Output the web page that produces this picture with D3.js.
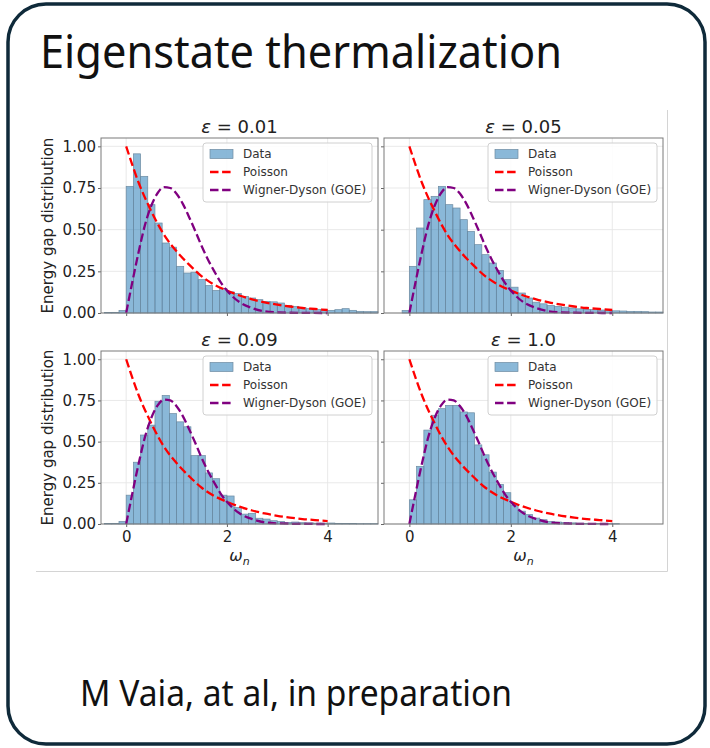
<!DOCTYPE html>
<html>
<head>
<meta charset="utf-8">
<script src="https://cdn.jsdelivr.net/npm/d3@7"></script>
<style>
  html, body { margin: 0; padding: 0; background: #fff; }
  svg { display: block; }
</style>
</head>
<body>
<div id="chart"></div>
<script>
// Eigenstate thermalization: energy gap distributions for four values of epsilon,
// histogram of the data against the Poisson and Wigner-Dyson (GOE) curves.

(function () {
  // ---- Data ----
  const binStart = -3 / 7;   // first bin edge
  const binWidth = 1 / 7;    // bins are 1/7 wide

  const panelEps = ["0.01", "0.05", "0.09", "1.0"];

  const histEps001 = [
    0.003, 0.004, 0.015,
    0.76, 0.955, 0.82, 0.65, 0.54, 0.42, 0.395, 0.28, 0.24, 0.245,
    0.20, 0.165, 0.135, 0.147, 0.127, 0.117, 0.10, 0.09, 0.08, 0.07,
    0.067, 0.06, 0.046, 0.04, 0.032, 0.026, 0.022, 0.02, 0.016, 0.02,
    0.026, 0.016, 0.01, 0.008, 0.008
  ];
  const histEps005 = [
    0, 0, 0.015,
    0.28, 0.51, 0.68, 0.70, 0.76, 0.65, 0.63, 0.56, 0.49, 0.41,
    0.35, 0.30, 0.255, 0.20, 0.155, 0.12, 0.09, 0.065, 0.055, 0.045,
    0.04, 0.035, 0.03, 0.025, 0.022, 0.02, 0.018, 0.015, 0.013, 0.012,
    0.01, 0.01, 0.008, 0.006, 0.006
  ];
  const histEps009 = [
    0.003, 0.004, 0.015,
    0.175, 0.375, 0.54, 0.60, 0.745, 0.78, 0.67, 0.62, 0.59, 0.415,
    0.415, 0.31, 0.275, 0.175, 0.17, 0.10, 0.06, 0.065, 0.035, 0.03,
    0.02, 0.015, 0.01, 0.012, 0.008, 0.007, 0.005, 0.005, 0.006, 0.004,
    0.003, 0.003, 0.002, 0.002, 0.002
  ];
  const histEps100 = [
    0, 0, 0,
    0.147, 0.35, 0.57, 0.66, 0.70, 0.72, 0.72, 0.68, 0.675, 0.48,
    0.42, 0.315, 0.24, 0.19, 0.115, 0.078, 0.057, 0.036, 0.026, 0.016,
    0.012, 0.009, 0.007, 0.005, 0.004, 0.003, 0.003, 0.002, 0.002, 0,
    0, 0, 0, 0, 0
  ];
  const panelHists = [histEps001, histEps005, histEps009, histEps100];

  // Poisson curve
  const poissonX = [0, 0.25, 0.5, 0.75, 1, 1.25, 1.5, 1.75, 2, 2.25, 2.5, 2.75, 3, 3.25, 3.5, 3.75, 4];
  const poissonY = [1.00, 0.78, 0.61, 0.47, 0.37, 0.29, 0.22, 0.17, 0.135, 0.105, 0.082, 0.064, 0.05, 0.039, 0.030, 0.024, 0.018];

  // Wigner-Dyson (GOE) curve
  const goeX = [0, 0.125, 0.25, 0.375, 0.5, 0.625, 0.75, 0.875, 1, 1.125, 1.25, 1.375, 1.5, 1.625, 1.75, 1.875, 2, 2.25, 2.5, 2.75, 3, 3.5, 4];
  const goeY = [0, 0.19, 0.37, 0.53, 0.645, 0.72, 0.755, 0.75, 0.715, 0.655, 0.575, 0.49, 0.40, 0.32, 0.25, 0.185, 0.135, 0.065, 0.03, 0.01, 0.004, 0.0005, 0];

  const xTicks = [0, 2, 4];
  const yTicks = [0, 0.25, 0.5, 0.75, 1.0];
  const legendLabels = ["Data", "Poisson", "Wigner-Dyson (GOE)"];

  // ---- Layout ----
  const W = 710, H = 748;
  const cols = [{ x0: 101, x1: 378 }, { x0: 384, x1: 663 }];
  const rows = [{ y0: 138, y1: 313 }, { y0: 351, y1: 524 }];
  const xDomain = [-0.5, 5.0];
  const yDomain = [0, 1.05];

  const tickFont = "DejaVu Sans, sans-serif";
  const slideFont = "Liberation Sans Narrow, Noto Sans, sans-serif";
  const barFill = "rgba(31,119,180,0.52)";
  const barEdge = "#6d8ba2";
  const poissonColor = "#ff0000";
  const goeColor = "#800080";
  const dash = "8.5,3.6";

  const svg = d3.select("#chart").append("svg")
    .attr("width", W)
    .attr("height", H);

  // outer rounded frame
  svg.append("rect")
    .attr("x", 8).attr("y", 4)
    .attr("width", 697).attr("height", 740)
    .attr("rx", 38).attr("ry", 38)
    .attr("fill", "#fff")
    .attr("stroke", "#0f2a3a")
    .attr("stroke-width", 3.5);

  svg.append("text")
    .attr("x", 40).attr("y", 68)
    .attr("font-family", slideFont)
    .attr("font-size", 46)
    .attr("textLength", 522)
    .attr("lengthAdjust", "spacingAndGlyphs")
    .attr("fill", "#111")
    .text("Eigenstate thermalization");

  svg.append("text")
    .attr("x", 80).attr("y", 706)
    .attr("font-family", slideFont)
    .attr("font-size", 36)
    .attr("textLength", 432)
    .attr("lengthAdjust", "spacingAndGlyphs")
    .attr("fill", "#111")
    .text("M Vaia, at al, in preparation");

  // border of the embedded figure
  svg.append("path")
    .attr("d", "M36,571.5H667.5V110")
    .attr("fill", "none")
    .attr("stroke", "#d4d4d4")
    .attr("stroke-width", 1);

  // bin table shared by all panels
  const binsFor = values => values.map((v, i) => ({
    lo: binStart + i * binWidth,
    hi: binStart + (i + 1) * binWidth,
    v
  }));

  panelHists.forEach((values, p) => {
    const col = cols[p % 2];
    const row = rows[Math.floor(p / 2)];
    const isLeft = p % 2 === 0;
    const isBottom = p >= 2;

    const x = d3.scaleLinear().domain(xDomain).range([col.x0, col.x1]);
    const y = d3.scaleLinear().domain(yDomain).range([row.y1, row.y0]);

    const g = svg.append("g").attr("class", "panel");

    // grid
    g.append("g").selectAll("line.gx")
      .data(xTicks).enter().append("line")
      .attr("x1", d => x(d)).attr("x2", d => x(d))
      .attr("y1", row.y0).attr("y2", row.y1)
      .attr("stroke", "#e6e6e6").attr("stroke-width", 0.9);
    g.append("g").selectAll("line.gy")
      .data(yTicks).enter().append("line")
      .attr("x1", col.x0).attr("x2", col.x1)
      .attr("y1", d => y(d)).attr("y2", d => y(d))
      .attr("stroke", "#e6e6e6").attr("stroke-width", 0.9);

    // histogram
    g.append("g").selectAll("rect")
      .data(binsFor(values).filter(b => b.v > 0))
      .enter().append("rect")
      .attr("x", d => x(d.lo))
      .attr("y", d => y(d.v))
      .attr("width", d => x(d.hi) - x(d.lo))
      .attr("height", d => y(0) - y(d.v))
      .attr("fill", barFill)
      .attr("stroke", barEdge)
      .attr("stroke-width", 0.7);

    // curves
    const line = d3.line()
      .x(d => x(d[0]))
      .y(d => y(d[1]))
      .curve(d3.curveMonotoneX);

    g.append("path")
      .attr("d", line(d3.zip(poissonX, poissonY)))
      .attr("fill", "none")
      .attr("stroke", poissonColor)
      .attr("stroke-width", 2.3)
      .attr("stroke-dasharray", dash);

    g.append("path")
      .attr("d", line(d3.zip(goeX, goeY)))
      .attr("fill", "none")
      .attr("stroke", goeColor)
      .attr("stroke-width", 2.3)
      .attr("stroke-dasharray", dash);

    // axes
    const xAxis = d3.axisBottom(x).tickValues(xTicks).tickSize(3).tickPadding(4)
      .tickFormat(isBottom ? d3.format("d") : () => "");
    const yAxis = d3.axisLeft(y).tickValues(yTicks).tickSize(3).tickPadding(2)
      .tickFormat(isLeft ? d3.format(".2f") : () => "");

    const gx = g.append("g")
      .attr("transform", `translate(0,${row.y1})`)
      .call(xAxis);
    const gy = g.append("g")
      .attr("transform", `translate(${col.x0},0)`)
      .call(yAxis);

    [gx, gy].forEach(a => {
      a.select(".domain").remove();
      a.selectAll(".tick line").attr("stroke", "#666");
      a.selectAll(".tick text")
        .attr("font-family", tickFont)
        .attr("font-size", 15)
        .attr("fill", "#222");
    });

    // spines
    g.append("rect")
      .attr("x", col.x0).attr("y", row.y0)
      .attr("width", col.x1 - col.x0).attr("height", row.y1 - row.y0)
      .attr("fill", "none")
      .attr("stroke", "#7a7a7a")
      .attr("stroke-width", 1);

    // title
    const title = g.append("text")
      .attr("x", (col.x0 + col.x1) / 2)
      .attr("y", row.y0 - 5)
      .attr("text-anchor", "middle")
      .attr("font-family", tickFont)
      .attr("font-size", 18)
      .attr("fill", "#222");
    title.append("tspan").attr("font-style", "italic").text("ε");
    title.append("tspan").text(" = " + panelEps[p]);

    // y label
    if (isLeft) {
      g.append("text")
        .attr("transform", `translate(53,${(row.y0 + row.y1) / 2}) rotate(-90)`)
        .attr("text-anchor", "middle")
        .attr("font-family", tickFont)
        .attr("font-size", 15)
        .attr("fill", "#222")
        .text("Energy gap distribution");
    }

    // x label
    if (isBottom) {
      const xl = g.append("text")
        .attr("x", (col.x0 + col.x1) / 2)
        .attr("y", row.y1 + 37)
        .attr("text-anchor", "middle")
        .attr("font-family", tickFont)
        .attr("font-size", 16)
        .attr("font-style", "italic")
        .attr("fill", "#222");
      xl.append("tspan").text("ω");
      xl.append("tspan").attr("font-size", 11).attr("dy", 4).text("n");
    }

    // legend
    const lx = col.x1 - 175, ly = row.y0 + 5;
    const leg = g.append("g").attr("transform", `translate(${lx},${ly})`);
    leg.append("rect")
      .attr("width", 169).attr("height", 59)
      .attr("rx", 3)
      .attr("fill", "rgba(255,255,255,0.85)")
      .attr("stroke", "#d0d0d0")
      .attr("stroke-width", 1);

    const items = leg.selectAll("g.item")
      .data(legendLabels)
      .enter().append("g")
      .attr("transform", (d, i) => `translate(0,${11 + i * 18})`);

    items.each(function (d, i) {
      const it = d3.select(this);
      if (i === 0) {
        it.append("rect")
          .attr("x", 7).attr("y", -4.5)
          .attr("width", 23).attr("height", 9)
          .attr("fill", barFill)
          .attr("stroke", barEdge)
          .attr("stroke-width", 0.7);
      } else {
        it.append("line")
          .attr("x1", 7).attr("x2", 31)
          .attr("stroke", i === 1 ? poissonColor : goeColor)
          .attr("stroke-width", 2.3)
          .attr("stroke-dasharray", dash);
      }
      it.append("text")
        .attr("x", 40).attr("y", 4.3)
        .attr("font-family", tickFont)
        .attr("font-size", 12)
        .attr("fill", "#333")
        .text(d);
    });
  });
})();
</script>
</body>
</html>
